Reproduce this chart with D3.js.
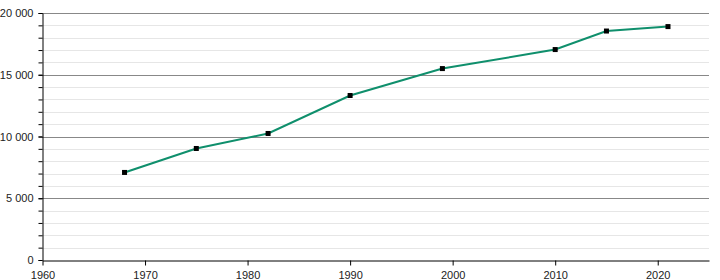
<!DOCTYPE html>
<html>
<head>
<meta charset="utf-8">
<script src="https://cdn.jsdelivr.net/npm/d3@7"></script>
<style>
  html, body { margin: 0; padding: 0; background: #fff; }
  svg text { font-family: 'Liberation Sans', Arial, sans-serif; }
</style>
</head>
<body>
<div id="chart"></div>
<script>
const years = [1968, 1975, 1982, 1990, 1999, 2010, 2015, 2021];
const population = [7090, 9030, 10245, 13320, 15500, 17040, 18540, 18900];
const xTicks = [1960, 1970, 1980, 1990, 2000, 2010, 2020];
const yMajorTicks = [0, 5000, 10000, 15000, 20000];
const yMinorTicks = d3.range(0, 20001, 1000);

const size = { width: 720, height: 280 };
const margin = { left: 42, top: 13, right: 11, bottom: 20 };

const data = years.map((y, i) => ({ year: y, value: population[i] }));

const svg = d3.select('#chart')
  .append('svg')
  .attr('width', size.width)
  .attr('height', size.height);

const x = d3.scaleLinear()
  .domain([1960, 2025])
  .range([margin.left + 0.5, size.width - margin.right]);
const y = d3.scaleLinear()
  .domain([0, 20000])
  .range([size.height - margin.bottom, margin.top]);

const fmt = (d) => d3.format(',')(d).replace(/,/g, ' ');

// minor grid
svg.append('g')
  .selectAll('line')
  .data(yMinorTicks.filter((d) => !yMajorTicks.includes(d)))
  .join('line')
  .attr('x1', margin.left)
  .attr('x2', size.width - margin.right)
  .attr('y1', (d) => Math.round(y(d)) + 0.5)
  .attr('y2', (d) => Math.round(y(d)) + 0.5)
  .attr('stroke', '#e6e6e6')
  .attr('stroke-width', 1);

// major grid
svg.append('g')
  .selectAll('line')
  .data(yMajorTicks.filter((d) => d > 0))
  .join('line')
  .attr('x1', margin.left)
  .attr('x2', size.width - margin.right)
  .attr('y1', (d) => Math.round(y(d)) + 0.5)
  .attr('y2', (d) => Math.round(y(d)) + 0.5)
  .attr('stroke', '#888')
  .attr('stroke-width', 1);

// y minor ticks
svg.append('g')
  .attr('transform', `translate(${margin.left + 0.5},0)`)
  .call(d3.axisLeft(y).tickValues(yMinorTicks).tickSize(4).tickFormat(''))
  .call((g) => g.select('.domain').remove())
  .call((g) => g.selectAll('line').attr('stroke', '#000'));

// y axis with labels
svg.append('g')
  .attr('transform', `translate(${margin.left + 0.5},0)`)
  .style('font-size', '11px')
  .call(d3.axisLeft(y).tickValues(yMajorTicks).tickSize(4).tickSizeOuter(0).tickPadding(5).tickFormat(fmt))
  .call((g) => g.select('.domain').attr('stroke', '#000'))
  .call((g) => g.selectAll('text').attr('fill', '#222'));

// x axis
svg.append('g')
  .attr('transform', `translate(0,${size.height - margin.bottom + 0.5})`)
  .style('font-size', '11px')
  .call(d3.axisBottom(x).tickValues(xTicks).tickSize(5).tickSizeOuter(0).tickPadding(6).tickFormat(d3.format('d')))
  .call((g) => g.select('.domain').attr('stroke', '#000'))
  .call((g) => g.selectAll('text').attr('fill', '#222'));

const line = d3.line()
  .x((d) => x(d.year))
  .y((d) => y(d.value));

svg.append('path')
  .datum(data)
  .attr('d', line)
  .attr('fill', 'none')
  .attr('stroke', '#0f8f6c')
  .attr('stroke-width', 2);

svg.append('g')
  .selectAll('rect')
  .data(data)
  .join('rect')
  .attr('x', (d) => x(d.year) - 2.5)
  .attr('y', (d) => y(d.value) - 2.5)
  .attr('width', 5)
  .attr('height', 5)
  .attr('fill', '#000');
</script>
</body>
</html>
